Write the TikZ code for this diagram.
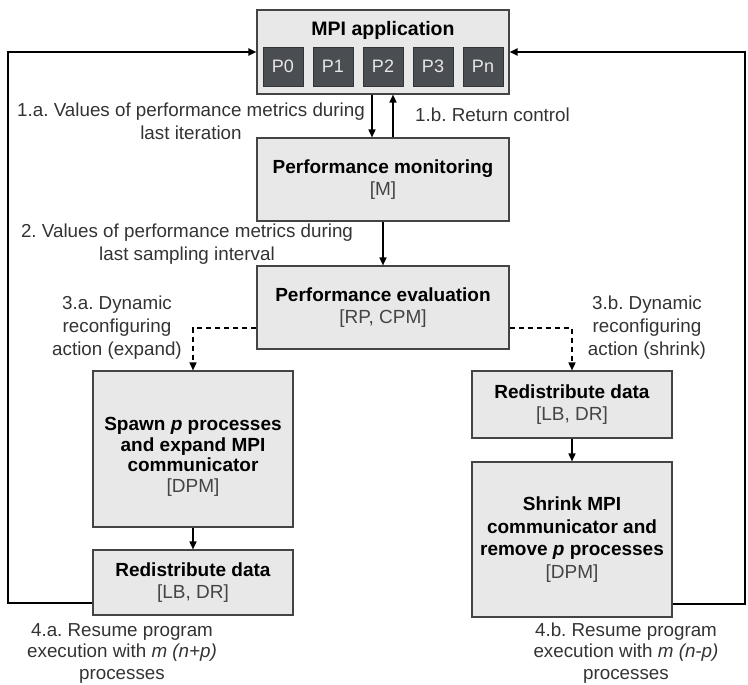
\documentclass[tikz,border=0pt]{standalone}
\usepackage{fontspec}
\setmainfont{Liberation Sans}
\usetikzlibrary{arrows.meta}
\frenchspacing
\definecolor{boxfill}{HTML}{E8E8E8}
\definecolor{boxline}{HTML}{444444}
\definecolor{pfill}{HTML}{4A4D52}
\definecolor{ptext}{HTML}{E6E6E6}
\definecolor{lbl}{HTML}{333333}
\definecolor{sub}{HTML}{444444}
\tikzset{
  box/.style={draw=boxline, line width=1.1pt, fill=boxfill, inner sep=0pt, align=center,
    font=\frenchspacing\fontsize{19}{22.5}\selectfont},
  boxtext/.style={inner sep=0pt, align=center, font=\frenchspacing\fontsize{19}{20.5}\selectfont},
  pbox/.style={draw=black!80, line width=0.8pt, fill=pfill, text=ptext, minimum width=40, minimum height=39,
    inner sep=0pt, font=\fontsize{18}{20}\selectfont},
  lab/.style={text=lbl, align=center, inner sep=0pt, font=\frenchspacing\fontsize{18.8}{23}\selectfont},
  conn/.style={line width=1.6pt, -{Triangle[length=8pt,width=7pt]}},
  dconn/.style={line width=1.6pt, dash pattern=on 5pt off 4pt, -{Triangle[length=8pt,width=7pt]}},
  fb/.style={line width=1.8pt, -{Triangle[length=8pt,width=7pt]}},
}
\newcommand{\sublab}[1]{{\color{sub}#1}}
\begin{document}
\begin{tikzpicture}[x=1pt,y=-1pt]
\useasboundingbox (0,0) rectangle (748,685);
% boxes
\node[box, minimum width=252, minimum height=84] (mpi) at (383,52) {};
\node[font=\bfseries\fontsize{19.5}{20}\selectfont, inner sep=0pt] (mpit) at (383,30) {MPI application};
\node[pbox] (p0) at (283,66.5) {P0};
\node[pbox] (p1) at (333,66.5) {P1};
\node[pbox] (p2) at (383,66.5) {P2};
\node[pbox] (p3) at (433,66.5) {P3};
\node[pbox] (pn) at (483,66.5) {Pn};

\node[box, minimum width=252, minimum height=83] (mon) at (383,179.5)
  {\textbf{Performance monitoring}\\\sublab{[M]}};
\node[box, minimum width=252, minimum height=83] (eval) at (383,307.5)
  {\textbf{Performance evaluation}\\\sublab{[RP, CPM]}};
\node[box, minimum width=200, minimum height=156] (spawn) at (193,449) {};
\node[boxtext] (spawnt) at (193,457)
  {\textbf{Spawn \textit{p} processes}\\\textbf{and expand MPI}\\\textbf{communicator}\\\sublab{[DPM]}};
\node[box, minimum width=200, minimum height=65] (redl) at (193,582.5)
  {\textbf{Redistribute data}\\\sublab{[LB, DR]}};
\node[box, minimum width=200, minimum height=67] (redr) at (572,404.5)
  {\textbf{Redistribute data}\\\sublab{[LB, DR]}};
\node[box, minimum width=200, minimum height=155] (shrink) at (572,539.5)
  {\textbf{Shrink MPI}\\\textbf{communicator and}\\\textbf{remove \textit{p} processes}\\\sublab{[DPM]}};

% labels
\node[lab] (l1a) at (191,121.5) {1.a. Values of performance metrics during\\last iteration};
\node[lab, anchor=west] (l1b) at (415,115) {1.b. Return control};
\node[lab] (l2) at (187,244.5) {2. Values of performance metrics during\\last sampling interval};
\node[lab] (l3a) at (117,328) {3.a. Dynamic\\reconfiguring\\action (expand)};
\node[lab] (l3b) at (647,328) {3.b. Dynamic\\reconfiguring\\action (shrink)};
\node[lab, font=\frenchspacing\fontsize{18.8}{21.5}\selectfont] (l4a) at (122,653) {4.a. Resume program\\execution with \textit{m (n+p)}\\processes};
\node[lab, font=\frenchspacing\fontsize{18.8}{21.5}\selectfont] (l4b) at (626,653) {4.b. Resume program\\execution with \textit{m (n-p)}\\processes};

% connectors
\draw[conn] (mpi.south -| 372,0) -- (mon.north -| 372,0);
\draw[conn] (mon.north -| 393,0) -- (mpi.south -| 393,0);
\draw[conn] (mon.south) -- (eval.north);
\coordinate (dl) at (193,328);
\coordinate (dr) at (572,328);
\draw[dconn] (eval.west |- dl) -- (dl) -- (spawn.north);
\draw[dconn] (eval.east |- dr) -- (dr) -- (redr.north);
\draw[conn] (spawn.south) -- (redl.north);
\draw[conn] (redr.south) -- (shrink.north);
\coordinate (fl1) at (8,603);
\coordinate (fl2) at (8,52);
\coordinate (fr1) at (745,604);
\coordinate (fr2) at (745,52);
\draw[fb] (redl.west |- fl1) -- (fl1) -- (fl2) -- (mpi.west);
\draw[fb] (shrink.east |- fr1) -- (fr1) -- (fr2) -- (mpi.east);
\end{tikzpicture}
\end{document}
